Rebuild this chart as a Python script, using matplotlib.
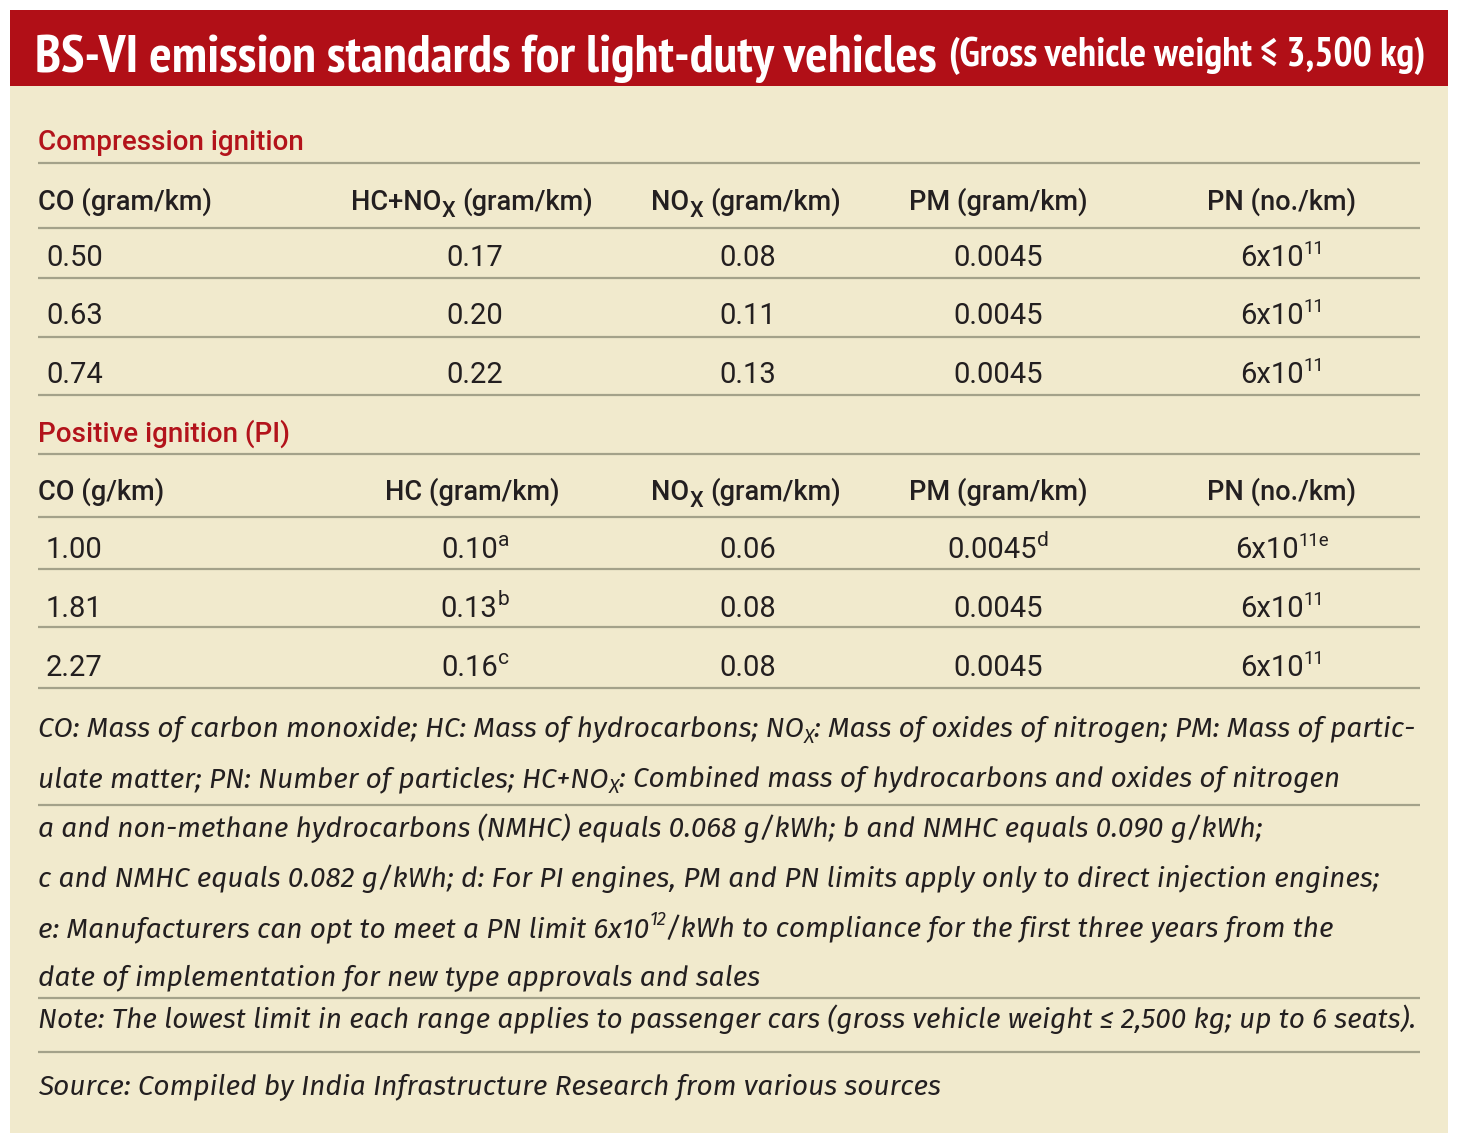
import matplotlib
matplotlib.use("Agg")
import matplotlib.pyplot as plt
from matplotlib.patches import Rectangle

# ---------------- data ----------------
title_main = "BS-VI emission standards for light-duty vehicles"
title_sub = "(Gross vehicle weight \u2264 3,500 kg)"

ci_label = "Compression ignition"
ci_headers = [[("CO (gram/km)", "n")],
              [("HC+NO", "n"), ("X", "sub"), (" (gram/km)", "n")],
              [("NO", "n"), ("X", "sub"), (" (gram/km)", "n")],
              [("PM (gram/km)", "n")],
              [("PN (no./km)", "n")]]
ci_co = [0.50, 0.63, 0.74]
ci_hcnox = [0.17, 0.20, 0.22]
ci_nox = [0.08, 0.11, 0.13]
ci_pm = [0.0045, 0.0045, 0.0045]
ci_pn_mant = [6, 6, 6]
ci_pn_exp = [11, 11, 11]

pi_label = "Positive ignition (PI)"
pi_headers = [[("CO (g/km)", "n")],
              [("HC (gram/km)", "n")],
              [("NO", "n"), ("X", "sub"), (" (gram/km)", "n")],
              [("PM (gram/km)", "n")],
              [("PN (no./km)", "n")]]
pi_co = [1.00, 1.81, 2.27]
pi_hc = [0.10, 0.13, 0.16]
pi_hc_notes = ["a", "b", "c"]
pi_nox = [0.06, 0.08, 0.08]
pi_pm = [0.0045, 0.0045, 0.0045]
pi_pm_notes = ["d", "", ""]
pi_pn_mant = [6, 6, 6]
pi_pn_exp = [11, 11, 11]
pi_pn_notes = ["e", "", ""]

notes_block1 = [
    [("CO: Mass of carbon monoxide; HC: Mass of hydrocarbons; NO", "n"), ("X", "sub"),
     (": Mass of oxides of nitrogen; PM: Mass of partic-", "n")],
    [("ulate matter; PN: Number of particles; HC+NO", "n"), ("X", "sub"),
     (": Combined mass of hydrocarbons and oxides of nitrogen", "n")],
]
notes_block2 = [
    [("a and non-methane hydrocarbons (NMHC) equals 0.068 g/kWh; b and NMHC equals 0.090 g/kWh;", "n")],
    [("c and NMHC equals 0.082 g/kWh; d: For PI engines, PM and PN limits apply only to direct injection engines;", "n")],
    [("e: Manufacturers can opt to meet a PN limit 6x10", "n"), ("12", "sup"),
     ("/kWh to compliance for the first three years from the", "n")],
    [("date of implementation for new type approvals and sales", "n")],
]
note_text = "Note: The lowest limit in each range applies to passenger cars (gross vehicle weight \u2264 2,500 kg; up to 6 seats)."
source_text = "Source: Compiled by India Infrastructure Research from various sources"

# ---------------- style ----------------
RED = "#B10F17"
BEIGE = "#F1EACD"
SEC_RED = "#B3131B"
TXT = "#231F20"
RULE = "#A4A28A"

F_TITLE = ["PT Sans Narrow", "DejaVu Sans"]
F_HEAD = ["Roboto", "DejaVu Sans"]
F_VAL = ["Roboto", "DejaVu Sans"]
F_NOTE = ["Fira Sans", "DejaVu Sans"]

W, H = 1459, 1146
fig = plt.figure(figsize=(W / 100, H / 100), dpi=100)
fig.patch.set_facecolor("white")
ax = fig.add_axes([0, 0, 1, 1])
ax.set_xlim(0, W)
ax.set_ylim(H, 0)
ax.axis("off")
renderer = fig.canvas.get_renderer()

_sw_cache = {}


def space_width(family, size, weight, style):
    key = (tuple(family), size, weight, style)
    if key not in _sw_cache:
        a = ax.text(0, 0, "aa", fontsize=size, family=family, weight=weight, style=style)
        b = ax.text(0, 0, "a a", fontsize=size, family=family, weight=weight, style=style)
        _sw_cache[key] = b.get_window_extent(renderer).width - a.get_window_extent(renderer).width
        a.remove()
        b.remove()
    return _sw_cache[key]


def rich(x, y, runs, family, size, weight="normal", style="normal", color=TXT, ha="left",
         sub_scale=0.78, sup_scale=0.64, sub_drop=0.22, sup_rise=0.42, measure_only=False):
    px = size * 100 / 72
    pieces = []
    for s, kind in runs:
        if kind == "n":
            sz, dy = size, 0.0
        elif kind == "sub":
            sz, dy = size * sub_scale, px * sub_drop
        else:
            sz, dy = size * sup_scale, -px * sup_rise
        core = s.strip(" ")
        lead = len(s) - len(s.lstrip(" "))
        trail = len(s) - len(s.rstrip(" "))
        sw = space_width(family, sz, weight, style)
        t = ax.text(0, y + dy, core, fontsize=sz, family=family, weight=weight, style=style,
                    color=color, ha="left", va="baseline")
        w = t.get_window_extent(renderer).width if core else 0.0
        pieces.append((t, lead * sw, w, trail * sw))
    total = sum(l + w + r for _, l, w, r in pieces)
    if measure_only:
        for t, *_ in pieces:
            t.remove()
        return total
    x0 = x - total / 2 if ha == "center" else (x - total if ha == "right" else x)
    for t, l, w, r in pieces:
        x0 += l
        t.set_x(x0)
        x0 += w + r
    return total


def fit_size(runs, family, weight, style, target, base=20.0, **kw):
    w = rich(0, 0, runs, family, base, weight=weight, style=style, measure_only=True, **kw)
    return base * target / w


def rule(y):
    ax.plot([38, 1420], [y, y], color=RULE, lw=1.6, solid_capstyle="butt")


# panels
ax.add_patch(Rectangle((10, 86), 1438, 1047, facecolor=BEIGE, edgecolor="none"))
ax.add_patch(Rectangle((10, 10), 1438, 76, facecolor=RED, edgecolor="none"))

# title
ts = fit_size([(title_main, "n")], F_TITLE, "bold", "normal", 900, base=40)
rich(35, 72, [(title_main, "n")], F_TITLE, ts, weight="bold", color="white")
ss = fit_size([(title_sub, "n")], F_TITLE, "bold", "normal", 477, base=28)
rich(1425, 66, [(title_sub, "n")], F_TITLE, ss, weight="bold", color="white", ha="right")

col_x = [38, 472, 746, 998, 1282]
val_x0 = 46
HEAD_SIZE = 19.5
VAL_SIZE = 21


def fmt2(v):
    return f"{v:.2f}"


def fmt4(v):
    return f"{v:.4f}"


def section(label, label_y, rule_top, headers, head_y, rule_head, rows_y, rules_rows,
            co, c2, c2_notes, nox, pm, pm_notes, pn_m, pn_e, pn_notes):
    ax.text(38, label_y, label, fontsize=20, family=F_HEAD, weight=500, color=SEC_RED,
            ha="left", va="baseline")
    rule(rule_top)
    for i, h in enumerate(headers):
        rich(col_x[i], head_y, h, F_HEAD, HEAD_SIZE, weight=500, ha="left" if i == 0 else "center",
             sub_scale=0.8, sub_drop=0.25)
    rule(rule_head)
    for r in range(3):
        y = rows_y[r]
        rich(val_x0, y, [(fmt2(co[r]), "n")], F_VAL, VAL_SIZE)
        runs = [(fmt2(c2[r]), "n")]
        if c2_notes[r]:
            runs.append((c2_notes[r], "sup"))
        rich(col_x[1] + 3, y, runs, F_VAL, VAL_SIZE, ha="center", sup_scale=0.72)
        rich(col_x[2] + 2, y, [(fmt2(nox[r]), "n")], F_VAL, VAL_SIZE, ha="center")
        runs = [(fmt4(pm[r]), "n")]
        if pm_notes[r]:
            runs.append((pm_notes[r], "sup"))
        rich(col_x[3], y, runs, F_VAL, VAL_SIZE, ha="center", sup_scale=0.72)
        runs = [(f"{pn_m[r]}x10", "n"), (f"{pn_e[r]}{pn_notes[r]}", "sup")]
        rich(col_x[4], y, runs, F_VAL, VAL_SIZE, ha="center")
        rule(rules_rows[r])


section(ci_label, 150, 163, ci_headers, 210, 228, [266, 324, 383], [278, 337, 395],
        ci_co, ci_hcnox, ["", "", ""], ci_nox, ci_pm, ["", "", ""],
        ci_pn_mant, ci_pn_exp, ["", "", ""])
section(pi_label, 442, 454, pi_headers, 500, 517, [558, 617, 676], [569, 627, 688],
        pi_co, pi_hc, pi_hc_notes, pi_nox, pi_pm, pi_pm_notes,
        pi_pn_mant, pi_pn_exp, pi_pn_notes)

# footnotes
NOTE_SIZE = fit_size(notes_block1[0], F_NOTE, "normal", "italic", 1377, base=18, sub_scale=0.7)
for runs, y in zip(notes_block1, [737, 787]):
    rich(38, y, runs, F_NOTE, NOTE_SIZE, style="italic", sub_scale=0.7)
rule(805)
for runs, y in zip(notes_block2, [837, 887, 937, 986]):
    rich(38, y, runs, F_NOTE, NOTE_SIZE, style="italic", sup_scale=0.66)
rule(998)
rich(38, 1028, [(note_text, "n")], F_NOTE, NOTE_SIZE, style="italic")
rule(1052)
rich(38, 1095, [(source_text, "n")], F_NOTE, NOTE_SIZE, style="italic")

fig.savefig("out.png", dpi=100, facecolor="white")
